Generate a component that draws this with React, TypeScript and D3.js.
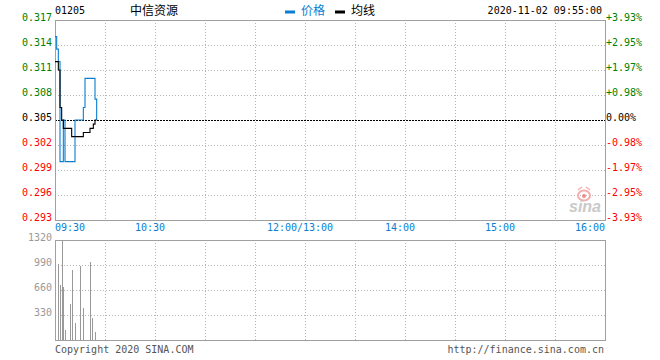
import React from 'react';
import * as d3 from 'd3';

const W = 660;
const H = 360;

const stockCode = '01205';
const stockName = '中信资源';
const dateText = '2020-11-02 09:55:00';
const prevClose = 0.305;
const priceTicks = [0.317, 0.314, 0.311, 0.308, 0.305, 0.302, 0.299, 0.296, 0.293];
const pctTicks = ['+3.93%', '+2.95%', '+1.97%', '+0.98%', '0.00%', '-0.98%', '-1.97%', '-2.95%', '-3.93%'];
const timeLabels = ['09:30', '10:30', '12:00/13:00', '14:00', '15:00', '16:00'];
const timeLabelMinutes = [0, 60, 150, 210, 270, 330];
const gridMinutes = [30, 60, 90, 120, 150, 180, 210, 240, 270, 300];
const priceValues = [0.315, 0.3135, 0.312, 0.300, 0.300, 0.305, 0.300, 0.300, 0.300, 0.300, 0.300, 0.300, 0.305, 0.305, 0.305, 0.305, 0.305, 0.3065, 0.310, 0.310, 0.310, 0.310, 0.310, 0.310, 0.3075, 0.305];
const avgValues = [0.312, 0.312, 0.311, 0.3065, 0.305, 0.304, 0.304, 0.304, 0.304, 0.304, 0.303, 0.303, 0.303, 0.303, 0.303, 0.303, 0.303, 0.3035, 0.3035, 0.3035, 0.3035, 0.304, 0.304, 0.3045, 0.305, 0.305];
const volumeMinutes = [2, 3, 4, 5, 6, 9, 10, 12, 15, 17, 21, 22, 24];
const volumeValues = [1000, 720, 1310, 700, 130, 480, 920, 220, 980, 420, 1030, 290, 110];
const volumeTicks = [1320, 990, 660, 330];

const MONO = '"DejaVu Sans Mono", monospace';
const CJK = '"Noto Sans CJK SC", sans-serif';
const BLUE = '#0a7ed2';
const GREEN = '#008000';
const RED = '#ff0000';
const FRAME = '#a0a0a0';
const GRID = '#b4b4b4';

export default function App() {
  const L = 55, R = 605;
  const pTop = 20, pBot = 220;
  const vTop = 240, vBot = 340;
  const x = d3.scaleLinear().domain([0, 330]).range([L, R]);
  const y = d3.scaleLinear().domain([0.293, 0.317]).range([pBot, pTop]);
  const yv = d3.scaleLinear().domain([0, 1320]).range([vBot, vTop]);

  const line = d3.line<number>().x((_, i) => x(i)).y((d) => y(d)).curve(d3.curveStepAfter);
  const pricePath = line(priceValues) || '';
  const avgPath = line(avgValues) || '';

  const labelColor = (v: number) => (Math.abs(v - prevClose) < 1e-9 ? '#000' : v > prevClose ? GREEN : RED);

  return (
    <svg width={W} height={H} style={{ display: 'block', position: 'absolute', left: 0, top: 0 }}>
      <rect width={W} height={H} fill="#fff" />
      {/* header */}
      <text x={55} y={13.5} fontFamily={MONO} fontSize={10} fill="#000">{stockCode}</text>
      <text x={130} y={14.5} fontFamily={CJK} fontSize={12} fill="#000">{stockName}</text>
      <rect x={285} y={10.5} width={10} height={3} fill={BLUE} />
      <text x={301} y={14.5} fontFamily={CJK} fontSize={12} fill={BLUE}>价格</text>
      <rect x={335} y={10.5} width={10} height={3} fill="#000" />
      <text x={351} y={14.5} fontFamily={CJK} fontSize={12} fill="#000">均线</text>
      <text x={602} y={13.5} textAnchor="end" fontFamily={MONO} fontSize={10} fill="#000">{dateText}</text>

      {/* price grid */}
      <g shapeRendering="crispEdges">
        {priceTicks.map((t, i) =>
          i === 0 || i === priceTicks.length - 1 || i === 4 ? null : (
            <line key={'h' + i} x1={L} x2={R} y1={Math.round(y(t)) + 0.5} y2={Math.round(y(t)) + 0.5} stroke={GRID} strokeDasharray="1,2" />
          )
        )}
        {gridMinutes.map((m) => (
          <line key={'v' + m} x1={Math.round(x(m)) + 0.5} x2={Math.round(x(m)) + 0.5} y1={pTop} y2={pBot} stroke={GRID} strokeDasharray="1,2" />
        ))}
        <line x1={L} x2={R} y1={Math.round(y(prevClose)) + 0.5} y2={Math.round(y(prevClose)) + 0.5} stroke="#000" strokeDasharray="2,1" />
        <rect x={L + 0.5} y={pTop + 0.5} width={R - L} height={pBot - pTop} fill="none" stroke={FRAME} />
      </g>

      {/* sina watermark */}
      <g opacity={0.9}>
        <ellipse cx={584} cy={195.5} rx={6} ry={5} fill="none" stroke="#f4a6a6" strokeWidth={2} />
        <circle cx={584} cy={196} r={2} fill="#f08080" />
        <path d="M578,190 L582,187 M586,187 L590,190" stroke="#f4a6a6" strokeWidth={1.5} />
        <text x={569} y={212} fontFamily="'Liberation Sans', Arial, sans-serif" fontStyle="italic" fontWeight="bold" fontSize={16} fill="#c4c4c4">sina</text>
      </g>

      {/* price lines */}
      <path d={pricePath} fill="none" stroke={BLUE} strokeWidth={1.1} />
      <path d={avgPath} fill="none" stroke="#000" strokeWidth={1.1} />

      {/* left/right labels */}
      {priceTicks.map((t, i) => (
        <text key={'lp' + i} x={52} y={y(t) + 1} textAnchor="end" fontFamily={MONO} fontSize={10} fill={labelColor(t)}>
          {t.toFixed(3)}
        </text>
      ))}
      {pctTicks.map((p, i) => (
        <text key={'rp' + i} x={606} y={y(priceTicks[i]) + 1} fontFamily={MONO} fontSize={10} fill={labelColor(priceTicks[i])}>
          {p}
        </text>
      ))}

      {/* time labels */}
      {timeLabels.map((t, i) => {
        const m = timeLabelMinutes[i];
        const anchor = i === 0 ? 'start' : i === timeLabels.length - 1 ? 'end' : 'middle';
        const tx = i === 0 ? L : i === timeLabels.length - 1 ? R : x(m) - 5;
        return (
          <text key={'t' + i} x={tx} y={231} textAnchor={anchor} fontFamily={MONO} fontSize={10} fill={BLUE}>
            {t}
          </text>
        );
      })}

      {/* volume grid */}
      <g shapeRendering="crispEdges">
        {volumeTicks.slice(1).map((t) => (
          <line key={'vh' + t} x1={L} x2={R} y1={Math.round(yv(t)) + 0.5} y2={Math.round(yv(t)) + 0.5} stroke={GRID} strokeDasharray="1,2" />
        ))}
        {gridMinutes.map((m) => (
          <line key={'vv' + m} x1={Math.round(x(m)) + 0.5} x2={Math.round(x(m)) + 0.5} y1={vTop} y2={vBot} stroke={GRID} strokeDasharray="1,2" />
        ))}
        {volumeMinutes.map((m, i) => (
          <line key={'bar' + i} x1={Math.round(x(m)) + 0.5} x2={Math.round(x(m)) + 0.5} y1={vBot} y2={yv(volumeValues[i])} stroke="#999" strokeWidth={1} />
        ))}
        <rect x={L + 0.5} y={vTop + 0.5} width={R - L} height={vBot - vTop} fill="none" stroke={FRAME} />
      </g>
      {volumeTicks.map((t) => (
        <text key={'vl' + t} x={52} y={yv(t) + 1} textAnchor="end" fontFamily={MONO} fontSize={10} fill="#999">
          {t}
        </text>
      ))}

      {/* footer */}
      <text x={55} y={353} fontFamily={MONO} fontSize={10} fill="#555">Copyright 2020 SINA.COM</text>
      <text x={604} y={353} textAnchor="end" fontFamily={MONO} fontSize={10} fill="#555">http://finance.sina.com.cn</text>
    </svg>
  );
}
